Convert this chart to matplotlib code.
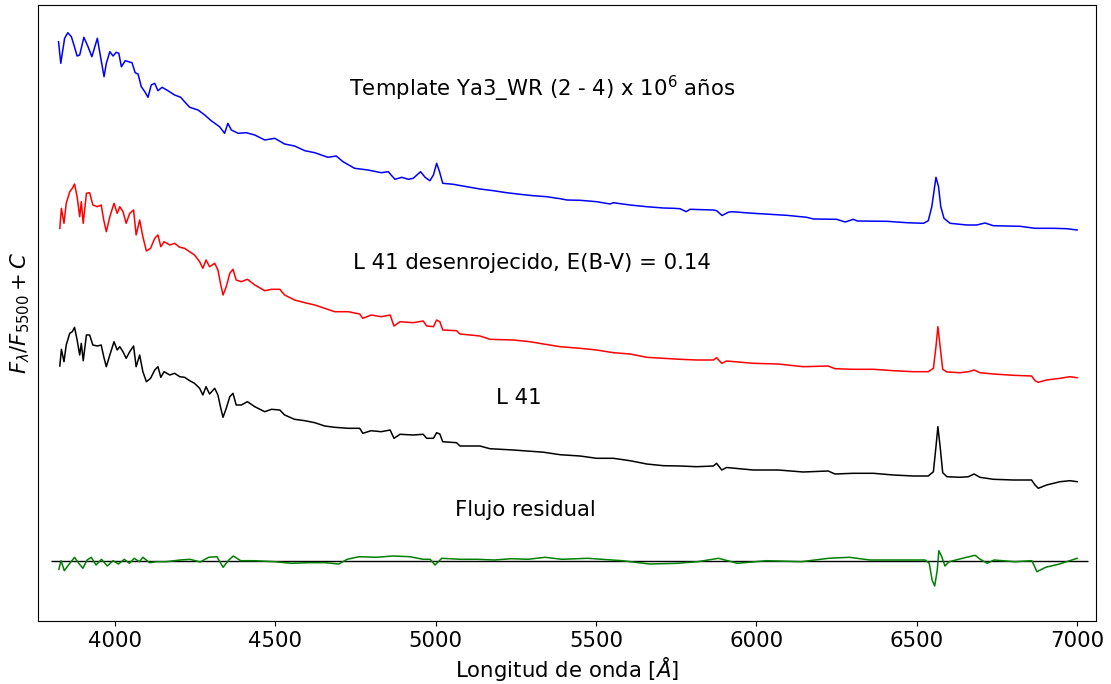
import matplotlib
matplotlib.use("Agg")
import matplotlib.pyplot as plt
import numpy as np

# ---------------- data ----------------
# Template Ya3_WR (blue)
wl_tmpl = [3824, 3831, 3843, 3853, 3864, 3872, 3882, 3890, 3903, 3916, 3928, 3945, 3955, 3966, 3973,
           3984, 3994, 4004, 4012, 4020, 4032, 4053, 4063, 4072, 4082, 4093, 4103, 4113, 4124, 4134,
           4147, 4165, 4186, 4205, 4217, 4233, 4259, 4280, 4300, 4326, 4342, 4352, 4363, 4384, 4409,
           4436, 4467, 4498, 4529, 4560, 4592, 4623, 4643, 4664, 4690, 4711, 4747, 4789, 4830, 4852,
           4873, 4894, 4915, 4930, 4953, 4967, 4982, 4993, 5003, 5012, 5022, 5055, 5097, 5138, 5180,
           5221, 5263, 5304, 5346, 5388, 5409, 5450, 5502, 5544, 5554, 5606, 5658, 5710, 5741, 5762,
           5781, 5793, 5866, 5876, 5893, 5912, 5923, 5990, 6094, 6157, 6178, 6250, 6277, 6302, 6315,
           6406, 6469, 6521, 6536, 6547, 6560, 6568, 6575, 6585, 6604, 6656, 6687, 6713, 6739, 6822,
           6869, 6926, 6968, 7000]
fx_tmpl = [5.190, 4.974, 5.224, 5.280, 5.240, 5.157, 5.047, 5.057, 5.234, 5.140, 5.040, 5.224, 5.040, 4.840, 4.974,
           5.090, 5.047, 5.084, 5.074, 4.940, 5.000, 4.980, 4.880, 4.867, 4.740, 4.690, 4.634, 4.757, 4.774, 4.700,
           4.734, 4.700, 4.657, 4.634, 4.590, 4.534, 4.507, 4.457, 4.400, 4.340, 4.274, 4.374, 4.307, 4.274, 4.280,
           4.257, 4.207, 4.224, 4.167, 4.147, 4.100, 4.080, 4.057, 4.034, 4.047, 3.990, 3.924, 3.907, 3.880, 3.890,
           3.814, 3.834, 3.814, 3.824, 3.890, 3.834, 3.800, 3.857, 3.974, 3.890, 3.774, 3.764, 3.740, 3.717, 3.700,
           3.680, 3.664, 3.650, 3.640, 3.620, 3.607, 3.604, 3.590, 3.567, 3.580, 3.557, 3.540, 3.527, 3.524, 3.520,
           3.490, 3.514, 3.507, 3.500, 3.452, 3.484, 3.490, 3.474, 3.454, 3.434, 3.417, 3.414, 3.387, 3.414, 3.397,
           3.394, 3.380, 3.374, 3.400, 3.540, 3.834, 3.740, 3.540, 3.424, 3.374, 3.357, 3.357, 3.377, 3.350, 3.344,
           3.324, 3.324, 3.320, 3.307]

# L 41 dereddened (red) and L 41 observed (black) share the same sampling
wl_obs = [3828, 3833, 3841, 3848, 3859, 3867, 3874, 3882, 3890, 3895, 3901, 3911, 3921, 3931, 3945,
          3957, 3965, 3973, 3984, 3997, 4007, 4015, 4025, 4035, 4046, 4058, 4066, 4077, 4087, 4098,
          4111, 4124, 4134, 4143, 4153, 4171, 4186, 4202, 4217, 4233, 4248, 4264, 4274, 4284, 4295,
          4311, 4321, 4330, 4337, 4347, 4358, 4368, 4378, 4394, 4413, 4436, 4467, 4488, 4514, 4529,
          4560, 4592, 4623, 4654, 4685, 4727, 4763, 4773, 4799, 4830, 4858, 4870, 4889, 4930, 4961,
          4972, 4993, 5003, 5013, 5022, 5065, 5076, 5138, 5169, 5242, 5294, 5336, 5388, 5450, 5502,
          5554, 5606, 5658, 5710, 5762, 5814, 5866, 5876, 5892, 5907, 5990, 6068, 6146, 6224, 6245,
          6302, 6365, 6427, 6490, 6536, 6552, 6560, 6566, 6573, 6581, 6594, 6635, 6661, 6679, 6697,
          6739, 6801, 6858, 6869, 6879, 6905, 6947, 6978, 7000]
fx_dered = [3.324, 3.524, 3.374, 3.574, 3.690, 3.724, 3.767, 3.640, 3.440, 3.590, 3.374, 3.674, 3.680, 3.557, 3.540,
            3.557, 3.407, 3.290, 3.440, 3.574, 3.474, 3.540, 3.490, 3.374, 3.474, 3.507, 3.257, 3.407, 3.240, 3.097,
            3.124, 3.224, 3.257, 3.140, 3.190, 3.157, 3.174, 3.134, 3.124, 3.090, 3.057, 2.990, 2.924, 3.007, 2.940,
            2.974, 2.907, 2.757, 2.657, 2.740, 2.874, 2.914, 2.807, 2.790, 2.814, 2.757, 2.700, 2.714, 2.714, 2.657,
            2.607, 2.580, 2.557, 2.524, 2.490, 2.490, 2.467, 2.424, 2.457, 2.440, 2.457, 2.347, 2.390, 2.380, 2.397,
            2.347, 2.340, 2.407, 2.390, 2.307, 2.300, 2.267, 2.247, 2.214, 2.207, 2.190, 2.167, 2.140, 2.124, 2.107,
            2.080, 2.067, 2.034, 2.024, 2.014, 2.007, 2.007, 2.030, 1.974, 1.997, 1.974, 1.967, 1.940, 1.947, 1.920,
            1.914, 1.914, 1.900, 1.890, 1.890, 1.924, 2.140, 2.340, 2.140, 1.914, 1.887, 1.880, 1.890, 1.907, 1.880,
            1.867, 1.854, 1.847, 1.800, 1.784, 1.807, 1.824, 1.840, 1.830]
fx_obs = [1.947, 2.114, 1.990, 2.157, 2.274, 2.290, 2.334, 2.207, 2.057, 2.174, 2.000, 2.257, 2.257, 2.157, 2.147,
          2.157, 2.040, 1.940, 2.057, 2.190, 2.107, 2.140, 2.090, 2.024, 2.090, 2.147, 1.940, 2.057, 1.890, 1.790,
          1.824, 1.907, 1.940, 1.834, 1.890, 1.857, 1.874, 1.840, 1.834, 1.800, 1.774, 1.724, 1.657, 1.740, 1.667,
          1.724, 1.657, 1.524, 1.434, 1.524, 1.640, 1.674, 1.557, 1.557, 1.590, 1.540, 1.490, 1.514, 1.507, 1.457,
          1.414, 1.400, 1.380, 1.347, 1.334, 1.324, 1.324, 1.274, 1.300, 1.290, 1.307, 1.224, 1.264, 1.257, 1.264,
          1.224, 1.224, 1.280, 1.267, 1.190, 1.180, 1.147, 1.147, 1.120, 1.107, 1.095, 1.085, 1.060, 1.047, 1.024,
          1.024, 1.000, 0.967, 0.950, 0.947, 0.940, 0.947, 0.974, 0.907, 0.932, 0.907, 0.907, 0.887, 0.897, 0.867,
          0.874, 0.874, 0.857, 0.847, 0.847, 0.890, 1.140, 1.340, 1.140, 0.880, 0.840, 0.834, 0.840, 0.867, 0.834,
          0.814, 0.807, 0.807, 0.757, 0.724, 0.757, 0.790, 0.800, 0.790]

# Residual flux (green)
wl_res = [3825, 3832, 3842, 3855, 3874, 3887, 3900, 3913, 3926, 3941, 3958, 3976, 3994, 4011, 4029,
          4045, 4060, 4076, 4087, 4108, 4129, 4160, 4203, 4234, 4266, 4292, 4318, 4337, 4355, 4369,
          4392, 4434, 4498, 4550, 4603, 4656, 4698, 4724, 4761, 4814, 4867, 4919, 4961, 4983, 4998,
          5019, 5077, 5130, 5183, 5236, 5288, 5341, 5394, 5474, 5581, 5667, 5753, 5817, 5882, 5941,
          6032, 6140, 6225, 6290, 6354, 6462, 6526, 6539, 6548, 6556, 6564, 6569, 6578, 6588, 6601,
          6655, 6682, 6698, 6720, 6741, 6805, 6859, 6875, 6902, 6945, 6977, 7000]
fx_res = [-0.086, 0.000, -0.100, -0.043, 0.034, -0.026, -0.076, 0.007, 0.034, -0.043, 0.014, -0.053, 0.000, -0.033, 0.014,
          -0.026, 0.024, -0.010, 0.034, -0.020, -0.010, -0.010, 0.007, 0.014, -0.013, 0.034, 0.040, -0.066, 0.007, 0.047,
          0.000, 0.000, -0.010, -0.026, -0.020, -0.020, -0.033, 0.014, 0.040, 0.034, 0.047, 0.040, 0.014, 0.014, -0.043,
          0.024, 0.014, 0.014, 0.007, 0.020, 0.014, 0.034, 0.014, 0.024, 0.000, -0.033, -0.026, -0.010, 0.024, -0.026,
          0.000, -0.010, 0.024, 0.034, 0.007, 0.007, 0.007, -0.026, -0.193, -0.253, -0.093, 0.100, 0.040, -0.053, -0.010,
          0.034, 0.054, 0.014, -0.026, 0.007, -0.010, 0.000, -0.110, -0.066, -0.033, 0.000, 0.024]

xticks = [4000, 4500, 5000, 5500, 6000, 6500, 7000]

# ---------------- figure ----------------
fig = plt.figure(figsize=(11.11, 6.84), dpi=100)
ax = fig.add_axes([38 / 1111, 1 - 621 / 684, (1096 - 38) / 1111, (621 - 5) / 684])

lw = 1.1
ax.plot(wl_tmpl, fx_tmpl, color="b", lw=lw)
ax.plot(wl_obs, fx_dered, color="r", lw=lw)
ax.plot(wl_obs, fx_obs, color="k", lw=lw)
ax.hlines(0, 3800, 7035, color="k", lw=1.0)
ax.plot(wl_res, fx_res, color="g", lw=lw)

fs = 15.3
ax.text(4730, 4.72, "Template Ya3_WR (2 - 4) x $10^6$ años", fontsize=fs, ha="left", va="center")
ax.text(4742, 2.98, "L 41 desenrojecido, E(B-V) = 0.14", fontsize=fs, ha="left", va="center")
ax.text(5188, 1.63, "L 41", fontsize=fs, ha="left", va="center")
ax.text(5060, 0.51, "Flujo residual", fontsize=fs, ha="left", va="center")

ax.set_xlim(3760, 7059)
ax.set_ylim(-0.603, 5.557)
ax.set_xticks(xticks)
ax.set_xticklabels([str(t) for t in xticks], fontsize=fs)
ax.set_yticks([])
ax.set_xlabel(r"Longitud de onda [$\AA$]", fontsize=fs, labelpad=3)
ax.set_ylabel(r"$F_{\lambda}/F_{5500} + C$", fontsize=fs)

fig.savefig("out.png", dpi=100)
